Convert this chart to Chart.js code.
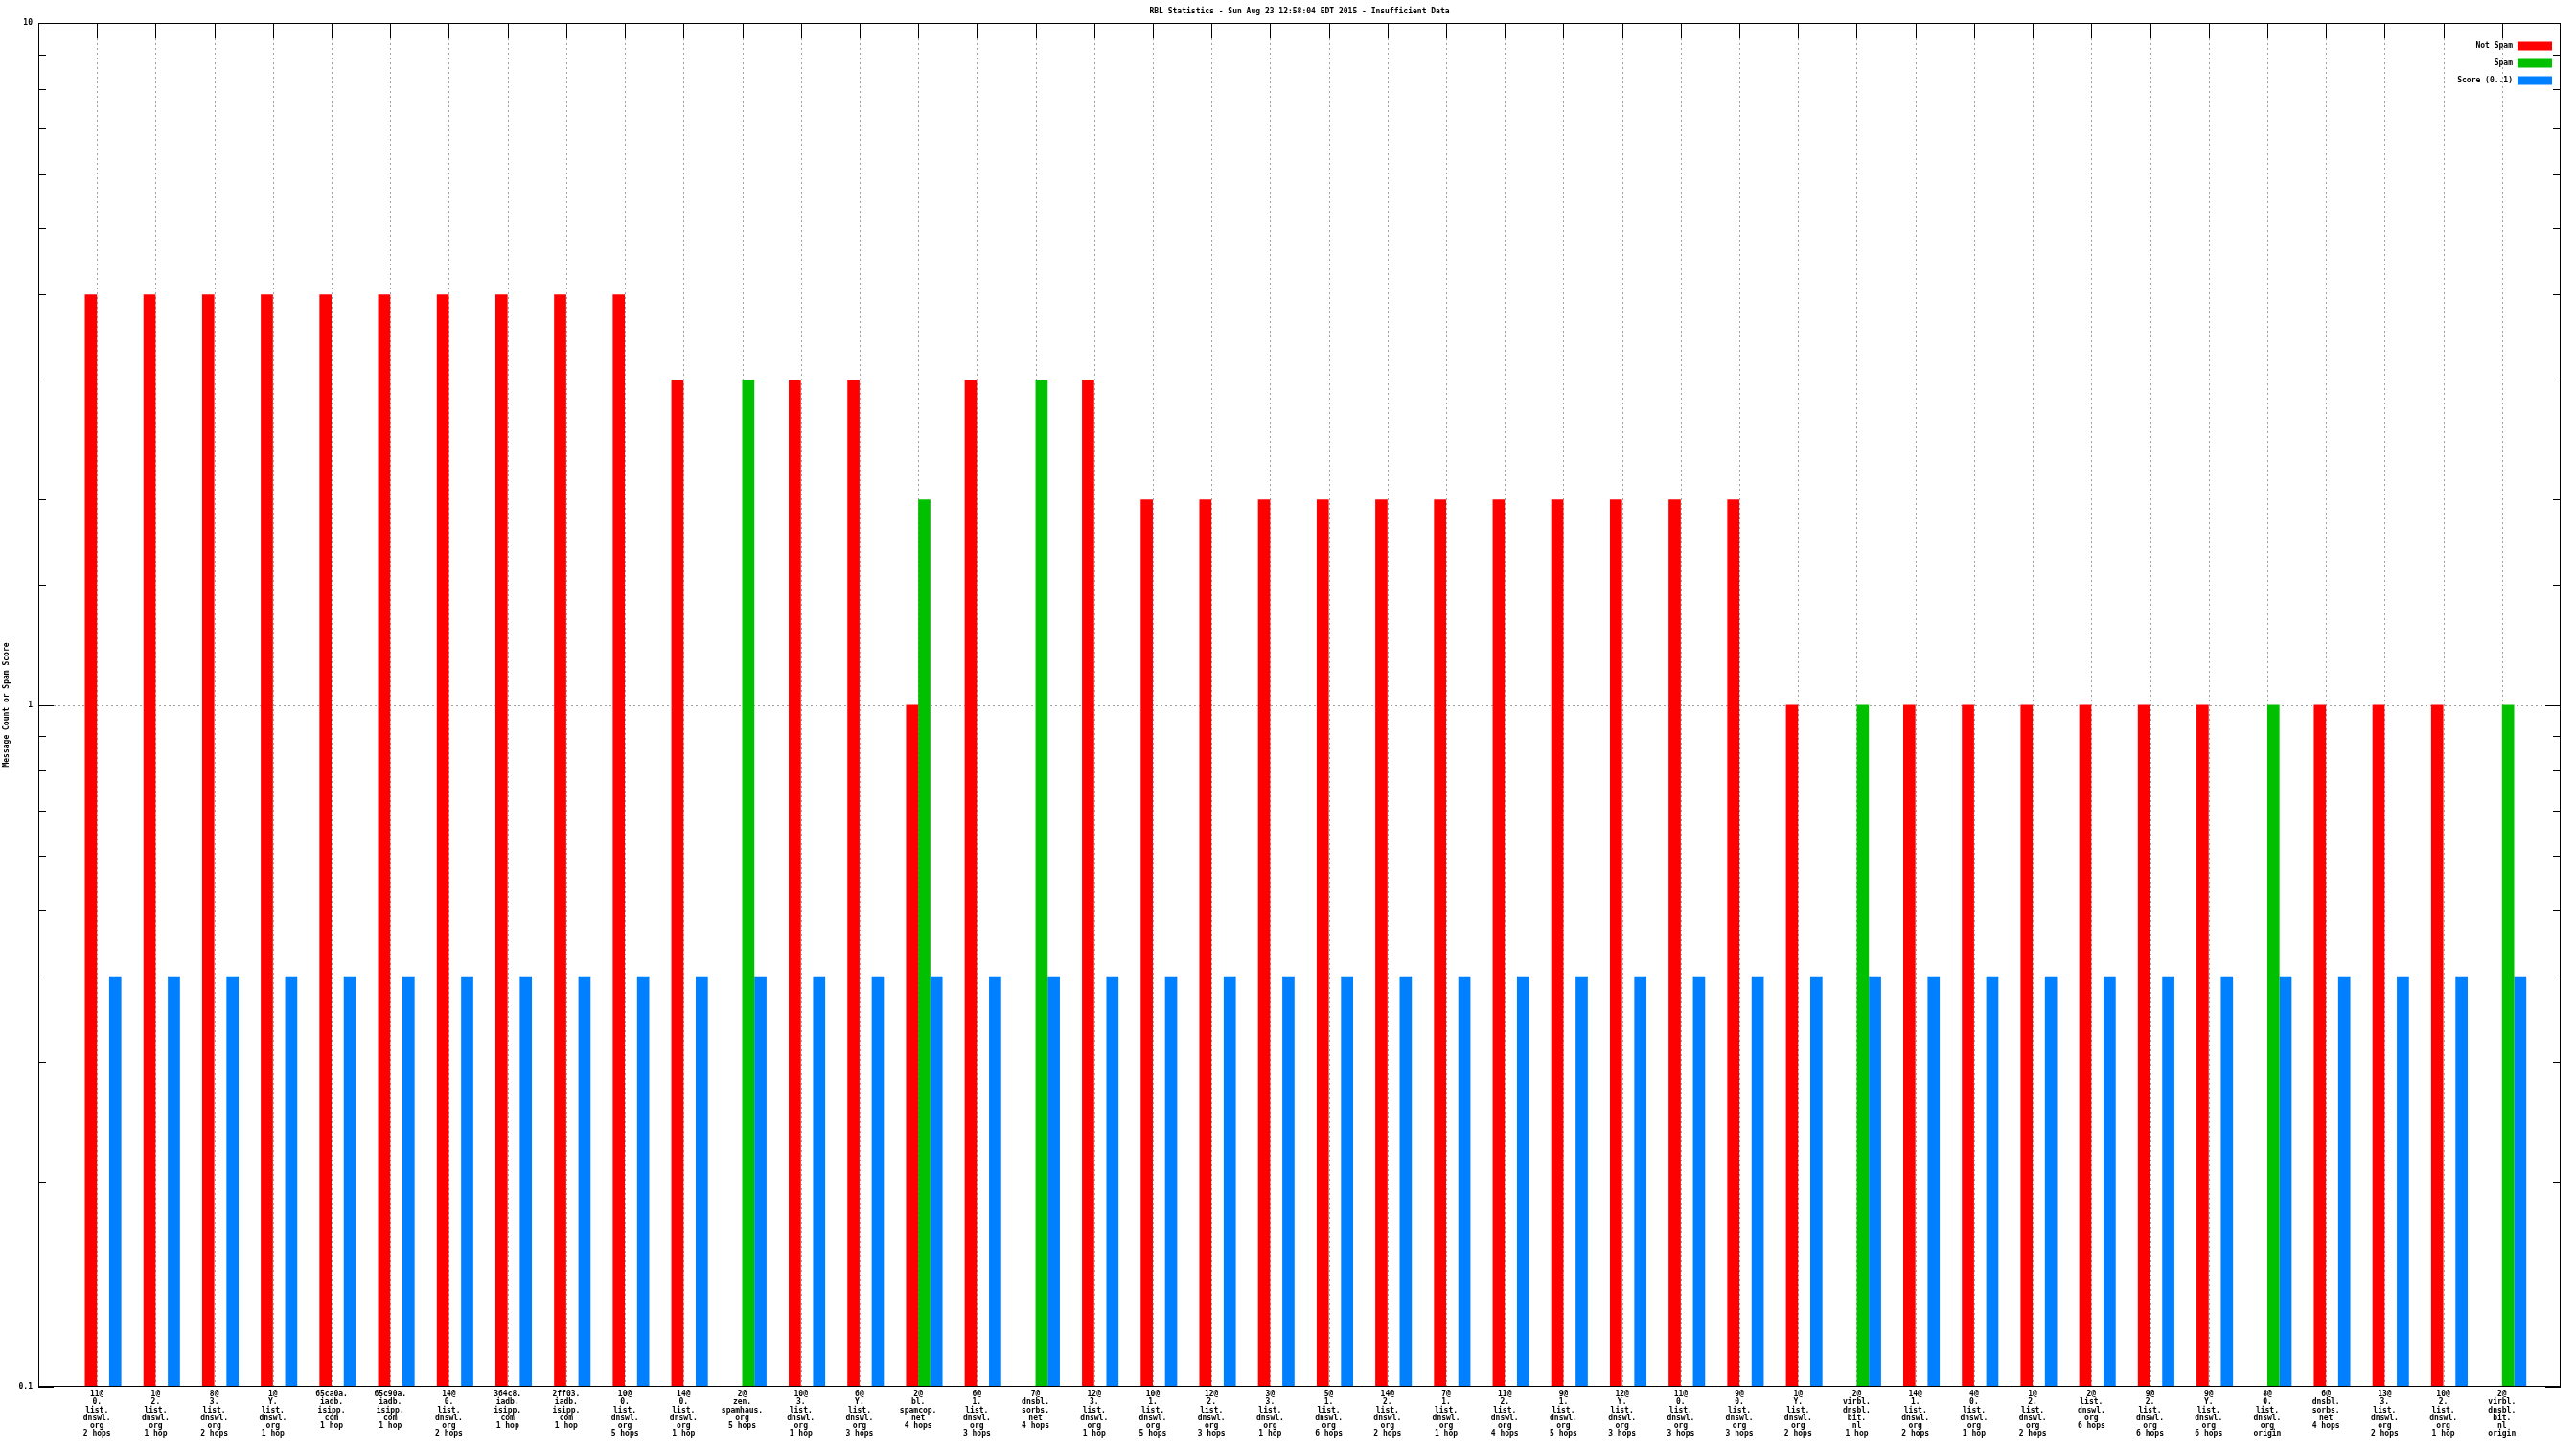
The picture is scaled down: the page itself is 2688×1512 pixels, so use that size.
<!DOCTYPE html>
<html>
<head>
<meta charset="utf-8">
<script src="https://cdn.jsdelivr.net/npm/chart.js@4.4.1/dist/chart.umd.min.js"></script>
<style>
html,body{margin:0;padding:0;background:#ffffff;overflow:hidden}
canvas{display:block}
</style>
</head>
<body>
<canvas id="c" width="2688" height="1512"></canvas>
<script>
// ---- data ----
const categories = [
  '11@0.list.dnswl.org', '1@2.list.dnswl.org', '8@3.list.dnswl.org', '1@Y.list.dnswl.org',
  '65ca0a.iadb.isipp.com', '65c90a.iadb.isipp.com', '14@0.list.dnswl.org', '364c8.iadb.isipp.com',
  '2ff03.iadb.isipp.com', '10@0.list.dnswl.org', '14@0.list.dnswl.org', '2@zen.spamhaus.org',
  '10@3.list.dnswl.org', '6@Y.list.dnswl.org', '2@bl.spamcop.net', '6@1.list.dnswl.org',
  '7@dnsbl.sorbs.net', '12@3.list.dnswl.org', '10@1.list.dnswl.org', '12@2.list.dnswl.org',
  '3@3.list.dnswl.org', '5@1.list.dnswl.org', '14@2.list.dnswl.org', '7@1.list.dnswl.org',
  '11@2.list.dnswl.org', '9@1.list.dnswl.org', '12@Y.list.dnswl.org', '11@0.list.dnswl.org',
  '9@0.list.dnswl.org', '1@Y.list.dnswl.org', '2@virbl.dnsbl.bit.nl', '14@1.list.dnswl.org',
  '4@0.list.dnswl.org', '1@2.list.dnswl.org', '2@list.dnswl.org', '9@2.list.dnswl.org',
  '9@Y.list.dnswl.org', '8@0.list.dnswl.org', '6@dnsbl.sorbs.net', '13@3.list.dnswl.org',
  '10@2.list.dnswl.org', '2@virbl.dnsbl.bit.nl'
];
const hops = [
  '2 hops', '1 hop', '2 hops', '1 hop',
  '1 hop', '1 hop', '2 hops', '1 hop',
  '1 hop', '5 hops', '1 hop', '5 hops',
  '1 hop', '3 hops', '4 hops', '3 hops',
  '4 hops', '1 hop', '5 hops', '3 hops',
  '1 hop', '6 hops', '2 hops', '1 hop',
  '4 hops', '5 hops', '3 hops', '3 hops',
  '3 hops', '2 hops', '1 hop', '2 hops',
  '1 hop', '2 hops', '6 hops', '6 hops',
  '6 hops', 'origin', '4 hops', '2 hops',
  '1 hop', 'origin'
];
const notSpam = [
  4, 4, 4, 4, 4, 4, 4, 4, 4, 4,
  3, null, 3, 3, 1, 3, null, 3,
  2, 2, 2, 2, 2, 2, 2, 2, 2, 2, 2,
  1, null, 1, 1, 1, 1, 1, 1, null, 1, 1, 1, null
];
const spam = [
  null, null, null, null, null, null, null, null, null, null,
  null, 3, null, null, 2, null, 3, null,
  null, null, null, null, null, null, null, null, null, null, null,
  null, 1, null, null, null, null, null, null, 1, null, null, null, 1
];
const score = [
  0.4, 0.4, 0.4, 0.4, 0.4, 0.4, 0.4, 0.4, 0.4, 0.4,
  0.4, 0.4, 0.4, 0.4, 0.4, 0.4, 0.4, 0.4,
  0.4, 0.4, 0.4, 0.4, 0.4, 0.4, 0.4, 0.4, 0.4, 0.4, 0.4,
  0.4, 0.4, 0.4, 0.4, 0.4, 0.4, 0.4, 0.4, 0.4, 0.4, 0.4, 0.4, 0.4
];
const spacer = categories.map(() => null); // empty slot: gnuplot puts the tick between 1st and 2nd bar
const yTickLabels = ['0.1', '1', '10'];
const seriesNames = ['Not Spam', 'Spam', 'Score (0..1)'];
const seriesColors = ['#ff0000', '#00c000', '#0080ff'];
const titleText = 'RBL Statistics - Sun Aug 23 12:58:04 EDT 2015 - Insufficient Data';
const yTitle = 'Message Count or Spam Score';

// ---- build library structures ----
const labelLines = categories.map((c, i) => c.match(/[^@.]+[@.]?/g).concat([hops[i]]));
const toPts = arr => arr.map((v, i) => ({ x: i, y: v }));
const FONT = 'DejaVu Sans Mono';
const WEIGHT = 'bold';

const isDecade = v => Math.abs(Math.log10(v) - Math.round(Math.log10(v))) < 1e-9;

const gnuplotFrame = {
  id: 'gnuplotFrame',
  beforeDatasetsDraw(chart) {
    const { ctx, chartArea: { left, right, top, bottom }, scales: { x, y } } = chart;
    ctx.save();
    ctx.lineWidth = 1;
    // dotted grid
    ctx.strokeStyle = '#a0a0a0';
    ctx.setLineDash([2, 3]);
    ctx.beginPath();
    x.ticks.forEach(t => {
      const px = Math.round(x.getPixelForValue(t.value)) + 0.5;
      ctx.moveTo(px, top + 16); ctx.lineTo(px, bottom);
    });
    y.ticks.forEach(t => {
      if (isDecade(t.value) && t.value > y.min * 1.0001 && t.value < y.max * 0.9999) {
        const py = Math.round(y.getPixelForValue(t.value)) + 0.5;
        ctx.moveTo(left + 16, py); ctx.lineTo(right - 16, py);
      }
    });
    ctx.stroke();
    // inward tick marks
    ctx.setLineDash([]);
    ctx.strokeStyle = '#000000';
    ctx.beginPath();
    y.ticks.forEach(t => {
      const py = Math.round(y.getPixelForValue(t.value)) + 0.5;
      const len = isDecade(t.value) ? 16 : 8;
      ctx.moveTo(left, py); ctx.lineTo(left + len, py);
      ctx.moveTo(right, py); ctx.lineTo(right - len, py);
    });
    x.ticks.forEach(t => {
      const px = Math.round(x.getPixelForValue(t.value)) + 0.5;
      ctx.moveTo(px, top); ctx.lineTo(px, top + 16);
    });
    ctx.stroke();
    ctx.restore();
  },
  afterDatasetsDraw(chart) {
    const { ctx, chartArea: { left, right, top, bottom } } = chart;
    ctx.save();
    ctx.strokeStyle = '#000000';
    ctx.lineWidth = 1;
    ctx.strokeRect(Math.round(left) + 0.5, Math.round(top) + 0.5,
                   Math.round(right - left) - 1, Math.round(bottom - top) - 1);
    // legend (text right-aligned, sample box to its right, as gnuplot does)
    ctx.font = WEIGHT + ' 8px "' + FONT + '"';
    ctx.textAlign = 'right';
    ctx.textBaseline = 'middle';
    let row = 0;
    chart.data.datasets.forEach(ds => {
      if (!ds.label) return;
      const cy = top + 24 + row * 18;
      ctx.fillStyle = '#000000';
      ctx.fillText(ds.label, right - 50, cy);
      ctx.fillStyle = ds.backgroundColor;
      ctx.fillRect(right - 45, cy - 4.5, 36, 9);
      row++;
    });
    ctx.restore();
  }
};

new Chart(document.getElementById('c'), {
  type: 'bar',
  data: {
    datasets: [
      { label: '', data: toPts(spacer), backgroundColor: 'rgba(0,0,0,0)' },
      { label: seriesNames[0], data: toPts(notSpam), backgroundColor: seriesColors[0] },
      { label: seriesNames[1], data: toPts(spam), backgroundColor: seriesColors[1] },
      { label: seriesNames[2], data: toPts(score), backgroundColor: seriesColors[2] }
    ]
  },
  options: {
    responsive: false,
    devicePixelRatio: 1,
    animation: false,
    categoryPercentage: 0.83,
    barPercentage: 1.0,
    borderWidth: 0,
    layout: { padding: { left: 0, right: 16, top: 0, bottom: 0 } },
    plugins: {
      legend: { display: false },
      tooltip: { enabled: false },
      title: {
        display: true,
        text: titleText,
        color: '#000000',
        fullSize: false,
        font: { family: FONT, size: 8, weight: WEIGHT, lineHeight: 1 },
        padding: { top: 8, bottom: 8 }
      }
    },
    scales: {
      x: {
        type: 'linear',
        offset: false,
        min: -1,
        max: categories.length,
        afterBuildTicks: s => { s.ticks = categories.map((_, i) => ({ value: i })); },
        afterFit: s => { s.height = 65; },
        grid: { display: false, drawTicks: false, offset: false },
        border: { display: false },
        ticks: {
          autoSkip: false, maxRotation: 0, minRotation: 0, padding: 4,
          color: '#000000',
          font: { family: FONT, size: 8, weight: WEIGHT, lineHeight: 1.03 },
          callback: v => labelLines[v] || ''
        }
      },
      y: {
        type: 'logarithmic',
        min: 0.1,
        max: 10,
        afterFit: s => { s.width = 40; },
        grid: { display: false, drawTicks: false },
        border: { display: false },
        ticks: {
          autoSkip: false, padding: 6, color: '#000000',
          font: { family: FONT, size: 8, weight: WEIGHT },
          callback: v => isDecade(v) ? yTickLabels[Math.round(Math.log10(v)) + 1] : ''
        },
        title: {
          display: true, text: yTitle, color: '#000000',
          font: { family: FONT, size: 8, weight: WEIGHT },
          padding: { top: 2, bottom: 0 }
        }
      }
    }
  },
  plugins: [gnuplotFrame]
});
</script>
</body>
</html>
